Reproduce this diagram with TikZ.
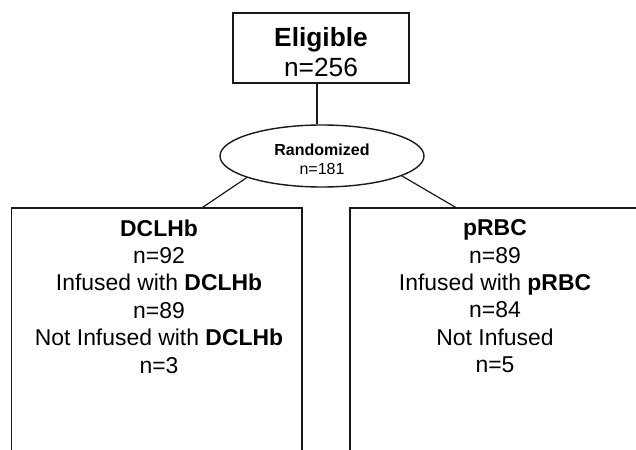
\documentclass[tikz,border=0pt]{standalone}
\usepackage{fontspec}
\setmainfont{Liberation Sans}
\usetikzlibrary{shapes.geometric}
\begin{document}
\begin{tikzpicture}[x=1pt,y=-1pt,
  frame/.style={draw=black!90,line width=1.4pt,inner sep=0pt},
  conn/.style={draw=black!90,line width=1.2pt},
  bigtxt/.style={align=center,inner sep=0pt,font=\fontsize{26.3}{30}\selectfont},
  midtxt/.style={align=center,inner sep=0pt,font=\fontsize{16}{19}\selectfont},
  armtxt/.style={align=center,inner sep=0pt,font=\fontsize{22.9}{27.4}\selectfont}]
\useasboundingbox (0,0) rectangle (636,449);
\clip (0,0) rectangle (636,449);
\node[frame,rectangle,minimum width=176pt,minimum height=70pt] (elig) at (321,48) {};
\node[bigtxt] (eligtext) at (321,51.9) {\textbf{Eligible}\\n=256};
\node[frame,ellipse,minimum width=204pt,minimum height=62pt] (rand) at (322,156) {};
\node[midtxt] (randtext) at (322,159.4) {\textbf{Randomized}\\n=181};
\node[frame,rectangle,minimum width=290.5pt,minimum height=312pt] (lbox) at (156.75,364) {};
\node[frame,rectangle,minimum width=291pt,minimum height=312pt] (rbox) at (495.5,364) {};
\node[armtxt] (ltext) at (159,296.4) {\textbf{DCLHb}\\n=92\\Infused with \textbf{DCLHb}\\n=89\\Not Infused with \textbf{DCLHb}\\n=3};
\node[armtxt] (rtext) at (495,296.4) {\textbf{pRBC}\\n=89\\Infused with \textbf{pRBC}\\n=84\\Not Infused\\n=5};
\draw[conn] ([xshift=-4pt]elig.south) -- ([xshift=-4pt]elig.south |- rand.north);
\draw[conn] (rand.196) -- ([xshift=46pt]lbox.north);
\draw[conn] (rand.346) -- ([xshift=-40pt]rbox.north);
\end{tikzpicture}
\end{document}
